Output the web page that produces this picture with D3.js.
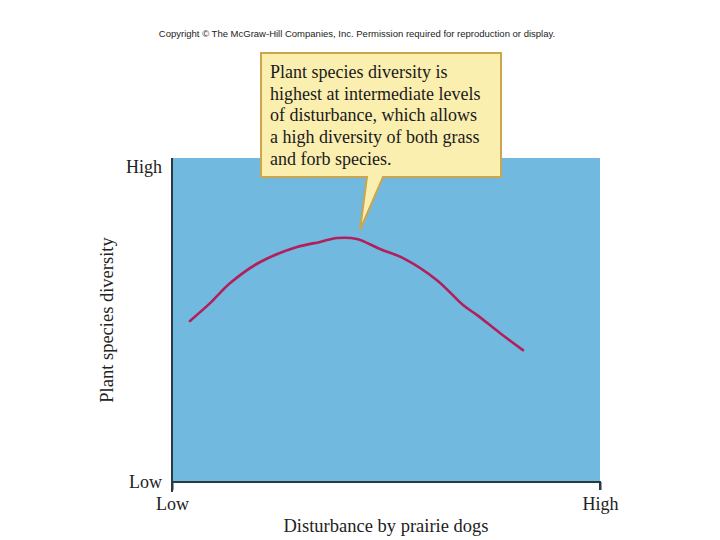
<!DOCTYPE html>
<html>
<head>
<meta charset="utf-8">
<script src="https://cdn.jsdelivr.net/npm/d3@7"></script>
<style>
  body { margin: 0; background: #fff; }
  svg text { font-family: "Liberation Serif", "Times New Roman", serif; fill: #222; }
</style>
</head>
<body>
<svg id="chart" width="720" height="540"></svg>
<script>
// disturbance (0 = low, 10 = high) vs plant species diversity (0 = low, 10 = high)
const disturbance = [0.42, 0.89, 1.36, 2.06, 2.92, 3.46, 3.86, 4.32, 4.86, 5.40, 6.19, 6.80, 7.13, 7.66, 8.20];
const diversity   = [4.97, 5.52, 6.14, 6.79, 7.25, 7.41, 7.53, 7.50, 7.19, 6.91, 6.23, 5.46, 5.15, 4.60, 4.07];
const xTicks = ["Low", "High"];
const yTicks = ["Low", "High"];
const calloutLines = [
  "Plant species diversity is",
  "highest at intermediate levels",
  "of disturbance, which allows",
  "a high diversity of both grass",
  "and forb species."
];

const serif = '"Liberation Serif", "Times New Roman", serif';
const width = 720, height = 540;
const margin = {top: 158, right: 120, bottom: 58, left: 172};
const innerWidth = width - margin.left - margin.right;
const innerHeight = height - margin.top - margin.bottom;

const svg = d3.select('#chart');

svg.append('text')
    .attr('x', 357).attr('y', 37)
    .attr('text-anchor', 'middle')
    .style('font-family', '"Liberation Sans", Arial, sans-serif')
    .style('font-size', '9.5px')
    .style('fill', '#222')
    .text('Copyright \u00A9 The McGraw-Hill Companies, Inc. Permission required for reproduction or display.');

const g = svg.append('g').attr('transform', `translate(${margin.left},${margin.top})`);

const x = d3.scaleLinear().domain([0, 10]).range([0, innerWidth]);
const y = d3.scaleLinear().domain([0, 10]).range([innerHeight, 0]);

g.append('rect')
    .attr('width', innerWidth)
    .attr('height', innerHeight)
    .attr('fill', '#72b9df');

// axes
const xAxis = g.append('g')
    .attr('transform', `translate(0, ${innerHeight})`)
    .call(d3.axisBottom(x).tickValues([0, 10]).tickFormat((d, i) => xTicks[i]).tickSize(8).tickPadding(7));
const yAxis = g.append('g')
    .call(d3.axisLeft(y).tickValues([0, 10]).tickFormat((d, i) => yTicks[i]).tickSize(0).tickPadding(10));

[xAxis, yAxis].forEach(a => {
  a.select('.domain').attr('stroke', '#2b3a42').attr('stroke-width', 2);
  a.selectAll('line').attr('stroke', '#2b3a42').attr('stroke-width', 2);
  a.selectAll('text')
      .style('font-family', serif)
      .style('font-size', '18px')
      .style('fill', '#222');
});
xAxis.select('.domain').attr('d', `M0,8V0H${innerWidth}V8`);
yAxis.select('.domain').attr('d', `M0,0V${innerHeight + 10}`);
yAxis.selectAll('.tick text').attr('dy', (d) => d === 10 ? '0.8em' : '0.3em');

// titles
svg.append('text')
    .attr('x', margin.left + innerWidth / 2).attr('y', 532)
    .attr('text-anchor', 'middle')
    .style('font-family', serif)
    .style('font-size', '18.5px')
    .text('Disturbance by prairie dogs');
svg.append('text')
    .attr('transform', `translate(113, ${margin.top + innerHeight / 2}) rotate(-90)`)
    .attr('text-anchor', 'middle')
    .style('font-family', serif)
    .style('font-size', '18.5px')
    .text('Plant species diversity');

// curve
const pts = disturbance.map((d, i) => [d, diversity[i]]);
g.append('path')
    .datum(pts)
    .attr('fill', 'none')
    .attr('stroke', '#b21f5c')
    .attr('stroke-width', 2.6)
    .attr('stroke-linecap', 'round')
    .attr('d', d3.line().x(d => x(d[0])).y(d => y(d[1])).curve(d3.curveCatmullRom));

// callout bubble
const box = {x: 261, y: 53, w: 240, h: 124};
svg.append('path')
    .attr('d', `M${box.x},${box.y}H${box.x + box.w}V${box.y + box.h}H383L360,230L367,${box.y + box.h}H${box.x}Z`)
    .attr('fill', '#fbefb0')
    .attr('stroke', '#caa64e')
    .attr('stroke-width', 2)
    .attr('stroke-linejoin', 'miter');

svg.append('g').selectAll('text')
    .data(calloutLines)
    .join('text')
    .attr('x', 270)
    .attr('y', (d, i) => 78 + i * 21.7)
    .style('font-family', serif)
    .style('font-size', '18px')
    .style('fill', '#1a1a1a')
    .text(d => d);
</script>
</body>
</html>
